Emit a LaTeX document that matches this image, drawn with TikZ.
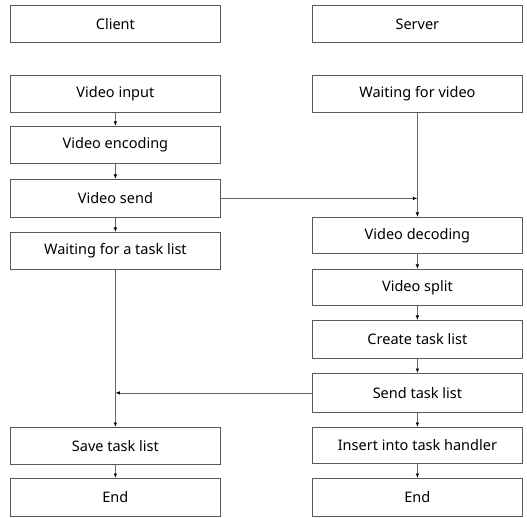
\documentclass[tikz,border=0pt]{standalone}
\usepackage{fontspec}
\setmainfont{Noto Sans}
\usetikzlibrary{arrows.meta}
\begin{document}
\begin{tikzpicture}[x=1pt,y=-1pt,
  stepbox/.style={draw=black!65,line width=0.8pt,minimum width=210pt,minimum height=37pt,inner sep=0pt,font=\fontsize{14.5}{16}\selectfont,anchor=north west},
  conn/.style={draw=black!60,line width=0.8pt,-{Latex[length=4.5pt,width=3.5pt,color=black]}}]
\useasboundingbox (0,0) rectangle (527,518);
\fill[white] (0,0) rectangle (527,518);
% left column
\node[stepbox] (client) at (10,5) {Client};
\node[stepbox] (vin) at (10,75) {Video input};
\node[stepbox] (venc) at (10,126) {Video encoding};
\node[stepbox,minimum height=38pt] (vsend) at (10,179) {Video send};
\node[stepbox] (wtask) at (10,232) {Waiting for a task list};
\node[stepbox] (save) at (10,427) {Save task list};
\node[stepbox,minimum height=38pt] (endl) at (10,478) {End};
% right column
\node[stepbox] (server) at (312,5) {Server};
\node[stepbox] (wvid) at (312,75) {Waiting for video};
\node[stepbox,minimum height=36pt] (vdec) at (312,217) {Video decoding};
\node[stepbox,minimum height=36pt] (vsplit) at (312,269) {Video split};
\node[stepbox,minimum height=38pt] (ctask) at (312,320) {Create task list};
\node[stepbox,minimum height=39pt] (stask) at (312,373) {Send task list};
\node[stepbox,minimum height=36pt] (ins) at (312,427) {Insert into task handler};
\node[stepbox,minimum height=38pt] (endr) at (312,478) {End};
% connectors left
\draw[conn] (vin) -- (venc);
\draw[conn] (venc) -- (vsend);
\draw[conn] (vsend) -- (wtask);
\draw[conn] (wtask) -- (save);
\draw[conn] (save) -- (endl);
% connectors right
\draw[conn] (wvid) -- (vdec);
\draw[conn] (vdec) -- (vsplit);
\draw[conn] (vsplit) -- (ctask);
\draw[conn] (ctask) -- (stask);
\draw[conn] (stask) -- (ins);
\draw[conn] (ins) -- (endr);
% cross connectors
\draw[conn] (vsend.east) -- (vsend.east -| wvid.south);
\draw[conn] (stask.west) -- (stask.west -| wtask.south);
\end{tikzpicture}
\end{document}
